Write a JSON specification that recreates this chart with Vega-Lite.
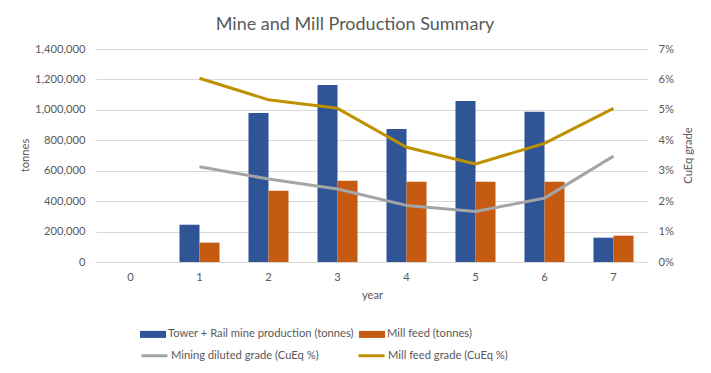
{
  "$schema": "https://vega.github.io/schema/vega-lite/v6.json",
  "width": 552,
  "height": 213,
  "autosize": {"type": "none"},
  "padding": {"left": 96, "top": 49, "right": 63, "bottom": 111},
  "background": "white",
  "config": {"view": {"stroke": null}, "font": "Lato"},
  "title": {"text": "Mine and Mill Production Summary", "fontSize": 18, "font": "Lato", "fontWeight": "normal", "color": "#595959", "anchor": "middle", "dx": -17, "offset": 9},
  "datasets": {
    "tonnes": [
      {"year": 1, "series": "Tower + Rail mine production (tonnes)", "tonnes": 245000},
      {"year": 1, "series": "Mill feed (tonnes)", "tonnes": 127000},
      {"year": 2, "series": "Tower + Rail mine production (tonnes)", "tonnes": 980000},
      {"year": 2, "series": "Mill feed (tonnes)", "tonnes": 468000},
      {"year": 3, "series": "Tower + Rail mine production (tonnes)", "tonnes": 1164000},
      {"year": 3, "series": "Mill feed (tonnes)", "tonnes": 534000},
      {"year": 4, "series": "Tower + Rail mine production (tonnes)", "tonnes": 875000},
      {"year": 4, "series": "Mill feed (tonnes)", "tonnes": 527000},
      {"year": 5, "series": "Tower + Rail mine production (tonnes)", "tonnes": 1059000},
      {"year": 5, "series": "Mill feed (tonnes)", "tonnes": 527000},
      {"year": 6, "series": "Tower + Rail mine production (tonnes)", "tonnes": 987000},
      {"year": 6, "series": "Mill feed (tonnes)", "tonnes": 527000},
      {"year": 7, "series": "Tower + Rail mine production (tonnes)", "tonnes": 160000},
      {"year": 7, "series": "Mill feed (tonnes)", "tonnes": 173000}
    ],
    "grade": [
      {"year": 1, "series": "Mining diluted grade (CuEq %)", "grade": 0.0313},
      {"year": 2, "series": "Mining diluted grade (CuEq %)", "grade": 0.0273},
      {"year": 3, "series": "Mining diluted grade (CuEq %)", "grade": 0.0240},
      {"year": 4, "series": "Mining diluted grade (CuEq %)", "grade": 0.0186},
      {"year": 5, "series": "Mining diluted grade (CuEq %)", "grade": 0.0166},
      {"year": 6, "series": "Mining diluted grade (CuEq %)", "grade": 0.0210},
      {"year": 7, "series": "Mining diluted grade (CuEq %)", "grade": 0.0348},
      {"year": 1, "series": "Mill feed grade (CuEq %)", "grade": 0.0604},
      {"year": 2, "series": "Mill feed grade (CuEq %)", "grade": 0.0533},
      {"year": 3, "series": "Mill feed grade (CuEq %)", "grade": 0.0505},
      {"year": 4, "series": "Mill feed grade (CuEq %)", "grade": 0.0377},
      {"year": 5, "series": "Mill feed grade (CuEq %)", "grade": 0.0322},
      {"year": 6, "series": "Mill feed grade (CuEq %)", "grade": 0.0390},
      {"year": 7, "series": "Mill feed grade (CuEq %)", "grade": 0.0505}
    ]
  },
  "layer": [
    {
      "data": {"name": "tonnes"},
      "mark": {"type": "bar"},
      "encoding": {
        "x": {
          "field": "year", "type": "ordinal",
          "scale": {"domain": [0, 1, 2, 3, 4, 5, 6, 7], "paddingInner": 0.42, "paddingOuter": 0.21},
          "axis": {"title": "year", "labelAngle": 0, "domain": false, "ticks": false, "labelPadding": 9, "labelFontSize": 11.2, "labelColor": "#595959", "titleFontSize": 11.2, "titleFontWeight": "normal", "titleColor": "#595959", "titlePadding": 7}
        },
        "xOffset": {
          "field": "series", "type": "nominal",
          "scale": {"domain": ["Tower + Rail mine production (tonnes)", "Mill feed (tonnes)"], "paddingInner": 0, "paddingOuter": 0}
        },
        "y": {
          "field": "tonnes", "type": "quantitative",
          "scale": {"domain": [0, 1400000]},
          "axis": {"title": "tonnes", "format": ",.0f", "values": [0, 200000, 400000, 600000, 800000, 1000000, 1200000, 1400000], "grid": true, "gridColor": "#d9d9d9", "domain": false, "ticks": false, "labelPadding": 11, "labelFontSize": 11.2, "labelColor": "#595959", "titleFontSize": 11.2, "titleFontWeight": "normal", "titleColor": "#595959", "titleX": -71, "titleY": 106, "titleAlign": "center", "titleBaseline": "middle", "titleAngle": 270}
        },
        "fill": {
          "field": "series", "type": "nominal",
          "scale": {"domain": ["Tower + Rail mine production (tonnes)", "Mill feed (tonnes)"], "range": ["#2F5597", "#C55A11"]},
          "legend": {"orient": "none", "legendX": 44, "legendY": 272, "direction": "horizontal", "columns": 2, "title": null, "symbolType": "M-1,-0.27H1V0.27H-1Z", "symbolSize": 676, "symbolStrokeWidth": 0, "symbolOpacity": 1, "labelFontSize": 11.2, "labelColor": "#595959", "labelOffset": 2, "columnPadding": 5, "labelLimit": 400}
        }
      }
    },
    {
      "data": {"name": "grade"},
      "mark": {"type": "line", "strokeWidth": 3, "strokeJoin": "round"},
      "encoding": {
        "x": {"field": "year", "type": "ordinal"},
        "y": {
          "field": "grade", "type": "quantitative",
          "scale": {"domain": [0, 0.07]},
          "axis": {"orient": "right", "title": "CuEq grade", "format": ".0%", "values": [0, 0.01, 0.02, 0.03, 0.04, 0.05, 0.06, 0.07], "grid": false, "domain": false, "ticks": false, "labelPadding": 10, "labelFontSize": 11.2, "labelColor": "#595959", "titleFontSize": 11.2, "titleFontWeight": "normal", "titleColor": "#595959", "titleX": 40, "titleY": 106, "titleAlign": "center", "titleBaseline": "middle", "titleAngle": 270}
        },
        "stroke": {
          "field": "series", "type": "nominal",
          "scale": {"domain": ["Mining diluted grade (CuEq %)", "Mill feed grade (CuEq %)"], "range": ["#A5A5A5", "#BF9000"]},
          "legend": {"orient": "none", "legendX": 44, "legendY": 292, "direction": "horizontal", "columns": 2, "title": null, "symbolType": "stroke", "symbolSize": 676, "symbolStrokeWidth": 3, "labelFontSize": 11.2, "labelColor": "#595959", "labelOffset": 2, "columnPadding": 33, "labelLimit": 400}
        }
      }
    }
  ],
  "resolve": {"scale": {"y": "independent"}}
}
